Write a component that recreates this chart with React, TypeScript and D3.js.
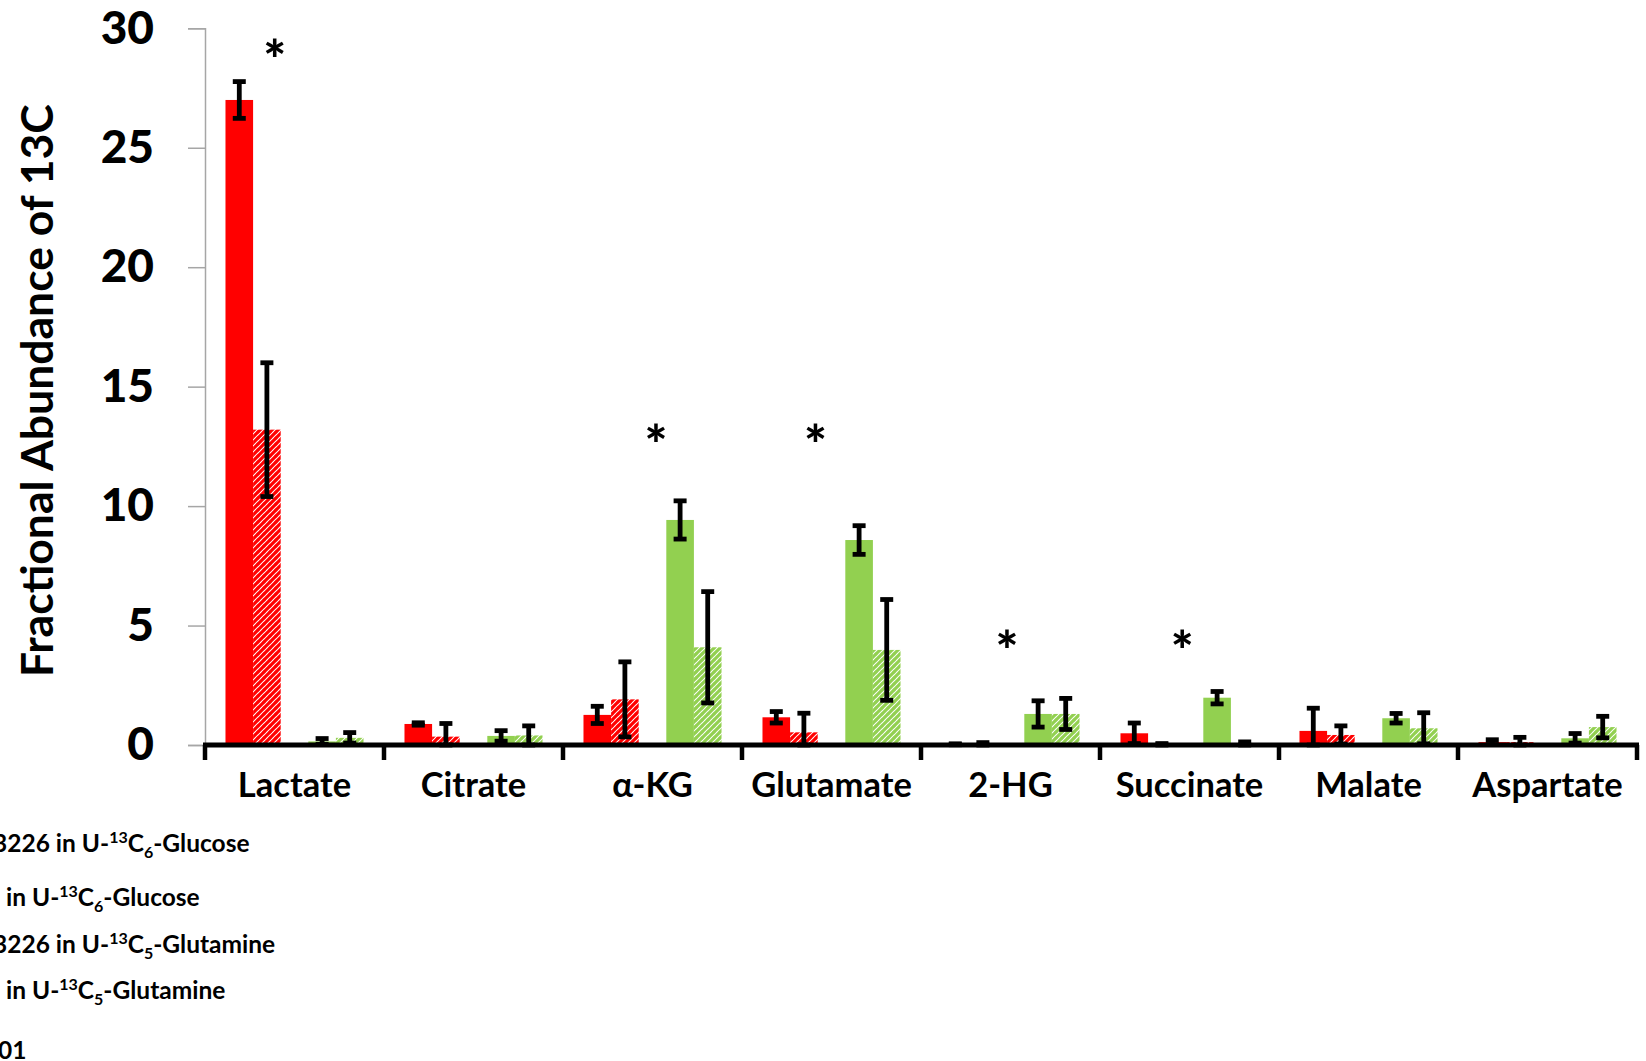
import React, { useRef, useEffect } from 'react';
import * as d3 from 'd3';

// metabolites on the x axis
const categories = ['Lactate', 'Citrate', 'α-KG', 'Glutamate', '2-HG', 'Succinate', 'Malate', 'Aspartate'];

// red solid: 3226 in U-13C6-Glucose
const glcDrug = [27.0, 0.88, 1.26, 1.16, 0.03, 0.49, 0.59, 0.12];
const glcDrugErr = [0.77, 0.05, 0.36, 0.24, 0.02, 0.43, 0.95, 0.1];
// red hatched: ... in U-13C6-Glucose
const glcCtrl = [13.2, 0.35, 1.91, 0.53, 0.05, 0.03, 0.42, 0.12];
const glcCtrlErr = [2.8, 0.55, 1.57, 0.8, 0.05, 0.03, 0.38, 0.2];
// green solid: 3226 in U-13C5-Glutamine
const glnDrug = [0.15, 0.38, 9.42, 8.58, 1.3, 1.98, 1.12, 0.28];
const glnDrugErr = [0.12, 0.22, 0.8, 0.6, 0.55, 0.26, 0.2, 0.2];
// green hatched: ... in U-13C5-Glutamine
const glnCtrl = [0.3, 0.4, 4.09, 3.98, 1.3, 0.05, 0.7, 0.75];
const glnCtrlErr = [0.22, 0.4, 2.33, 2.11, 0.65, 0.08, 0.65, 0.45];

const yTicks = [0, 5, 10, 15, 20, 25, 30];

// significance marks: category, height (data units), position across the band
const stars = [
  { cat: 'Lactate', value: 29.0, at: 0.39 },
  { cat: 'α-KG', value: 12.9, at: 0.52 },
  { cat: 'Glutamate', value: 12.9, at: 0.41 },
  { cat: '2-HG', value: 4.27, at: 0.48 },
  { cat: 'Succinate', value: 4.27, at: 0.46 },
];

const legendLines = [
  { pre: '3226 in U-', sub: '6', post: '-Glucose' },
  { pre: ' in U-', sub: '6', post: '-Glucose' },
  { pre: '3226 in U-', sub: '5', post: '-Glutamine' },
  { pre: ' in U-', sub: '5', post: '-Glutamine' },
];

const RED = '#ff0000';
const GREEN = '#92d050';
const FONT = 'Lato, "Open Sans", sans-serif';

const Chart = () => {
  const ref = useRef<SVGSVGElement | null>(null);

  useEffect(() => {
    const svg = d3.select(ref.current);
    svg.selectAll('*').remove();

    const W = 1646;
    const H = 1061;
    const left = 205;
    const right = 1637;
    const top = 28.3;
    const bottom = 745;

    const defs = svg.append('defs');
    [['hatchRed', RED], ['hatchGreen', GREEN]].forEach(([id, col]) => {
      const p = defs.append('pattern')
        .attr('id', id)
        .attr('patternUnits', 'userSpaceOnUse')
        .attr('width', 6)
        .attr('height', 6);
      p.append('rect').attr('width', 6).attr('height', 6).attr('fill', '#fff');
      p.append('path')
        .attr('d', 'M-1,1 l2,-2 M0,6 l6,-6 M5,7 l2,-2')
        .attr('stroke', col)
        .attr('stroke-width', 3.2);
    });

    svg.append('rect').attr('width', W).attr('height', H).attr('fill', '#fff');

    const x = d3.scaleBand().domain(categories).range([left, right]).padding(0);
    const slot = d3.scaleBand()
      .domain(['glcDrug', 'glcCtrl', 'gap', 'glnDrug', 'glnCtrl'])
      .range([0, x.bandwidth()])
      .paddingInner(0)
      .paddingOuter(0.742);
    const y = d3.scaleLinear().domain([0, 30]).range([bottom, top]);

    const series = [
      { key: 'glcDrug', vals: glcDrug, errs: glcDrugErr, fill: RED },
      { key: 'glcCtrl', vals: glcCtrl, errs: glcCtrlErr, fill: 'url(#hatchRed)' },
      { key: 'glnDrug', vals: glnDrug, errs: glnDrugErr, fill: GREEN },
      { key: 'glnCtrl', vals: glnCtrl, errs: glnCtrlErr, fill: 'url(#hatchGreen)' },
    ];

    // y axis (thin grey, ticks outside)
    const yAxis = svg.append('g')
      .attr('transform', `translate(${left},0)`)
      .call(d3.axisLeft(y).tickValues(yTicks).tickSize(17).tickFormat(d3.format('d')).tickPadding(34));
    yAxis.select('.domain').attr('stroke', '#a6a6a6').attr('stroke-width', 1.5);
    yAxis.selectAll('.tick line').attr('stroke', '#a6a6a6').attr('stroke-width', 1.5);
    yAxis.selectAll('.tick text')
      .attr('fill', '#000')
      .style('font-family', FONT)
      .style('font-weight', 900)
      .style('font-size', '46px');

    svg.append('text')
      .attr('transform', `translate(53,${(top + bottom) / 2 + 4}) rotate(-90)`)
      .attr('text-anchor', 'middle')
      .style('font-family', FONT)
      .style('font-weight', 700)
      .style('font-size', '44.5px')
      .text('Fractional Abundance of 13C');

    // bars
    const barG = svg.append('g');
    series.forEach(s => {
      barG.selectAll(`.bar-${s.key}`)
        .data(categories)
        .enter()
        .append('rect')
        .attr('x', (c) => (x(c) ?? 0) + (slot(s.key) ?? 0))
        .attr('width', slot.bandwidth())
        .attr('y', (_, i) => y(s.vals[i]))
        .attr('height', (_, i) => y(0) - y(s.vals[i]))
        .attr('fill', s.fill);
    });

    // error bars
    const errG = svg.append('g').attr('stroke', '#000').attr('stroke-width', 4.8);
    const capHalf = 6.5;
    series.forEach(s => {
      categories.forEach((c, i) => {
        const cx = (x(c) ?? 0) + (slot(s.key) ?? 0) + slot.bandwidth() / 2;
        const hi = y(s.vals[i] + s.errs[i]);
        const lo = y(Math.max(0, s.vals[i] - s.errs[i]));
        errG.append('line').attr('x1', cx).attr('x2', cx).attr('y1', hi).attr('y2', lo);
        errG.append('line').attr('x1', cx - capHalf).attr('x2', cx + capHalf).attr('y1', hi).attr('y2', hi);
        errG.append('line').attr('x1', cx - capHalf).attr('x2', cx + capHalf).attr('y1', lo).attr('y2', lo);
      });
    });

    // x axis: thick black with separators between categories
    const xAxisG = svg.append('g');
    xAxisG.append('line')
      .attr('x1', left - 2).attr('x2', right + 2)
      .attr('y1', bottom).attr('y2', bottom)
      .attr('stroke', '#000').attr('stroke-width', 5);
    const edges = categories.map(c => x(c) ?? 0).concat([right]);
    xAxisG.selectAll('.sep')
      .data(edges)
      .enter()
      .append('line')
      .attr('x1', d => d).attr('x2', d => d)
      .attr('y1', bottom).attr('y2', bottom + 15)
      .attr('stroke', '#000').attr('stroke-width', 4.5);
    xAxisG.selectAll('.cat')
      .data(categories)
      .enter()
      .append('text')
      .attr('x', d => (x(d) ?? 0) + x.bandwidth() / 2)
      .attr('y', 797)
      .attr('text-anchor', 'middle')
      .style('font-family', FONT)
      .style('font-weight', 700)
      .style('font-size', '34.5px')
      .text(d => d);

    // asterisks
    const starSize = 54;
    svg.selectAll('.star')
      .data(stars)
      .enter()
      .append('text')
      .attr('x', d => (x(d.cat) ?? 0) + d.at * x.bandwidth())
      .attr('y', d => y(d.value) + starSize * 0.5)
      .attr('text-anchor', 'middle')
      .style('font-family', FONT)
      .style('font-weight', 900)
      .style('font-size', `${starSize}px`)
      .text('*');

    // legend (cut off at the left edge of the figure, as in the source)
    const legendY = [852, 906, 953, 999];
    legendLines.forEach((l, i) => {
      const t = svg.append('text')
        .attr('x', l.pre.startsWith(' ') ? 0 : -7)
        .attr('y', legendY[i])
        .attr('xml:space', 'preserve')
        .style('font-family', FONT)
        .style('font-weight', 700)
        .style('font-size', '24.5px');
      t.append('tspan').text(l.pre);
      t.append('tspan').attr('dy', -9).style('font-size', '16px').text('13');
      t.append('tspan').attr('dy', 9).text('C');
      t.append('tspan').attr('dy', 6).style('font-size', '16px').text(l.sub);
      t.append('tspan').attr('dy', -6).text(l.post);
    });
    svg.append('text')
      .attr('x', -2)
      .attr('y', 1059)
      .style('font-family', FONT)
      .style('font-weight', 700)
      .style('font-size', '24.5px')
      .text('01');
  }, []);

  return (
    <svg ref={ref} width={1646} height={1061} style={{ display: 'block' }} />
  );
};

export default function App() {
  return (
    <div style={{ position: 'absolute', left: 0, top: 0, background: '#fff' }}>
      <Chart />
    </div>
  );
}
